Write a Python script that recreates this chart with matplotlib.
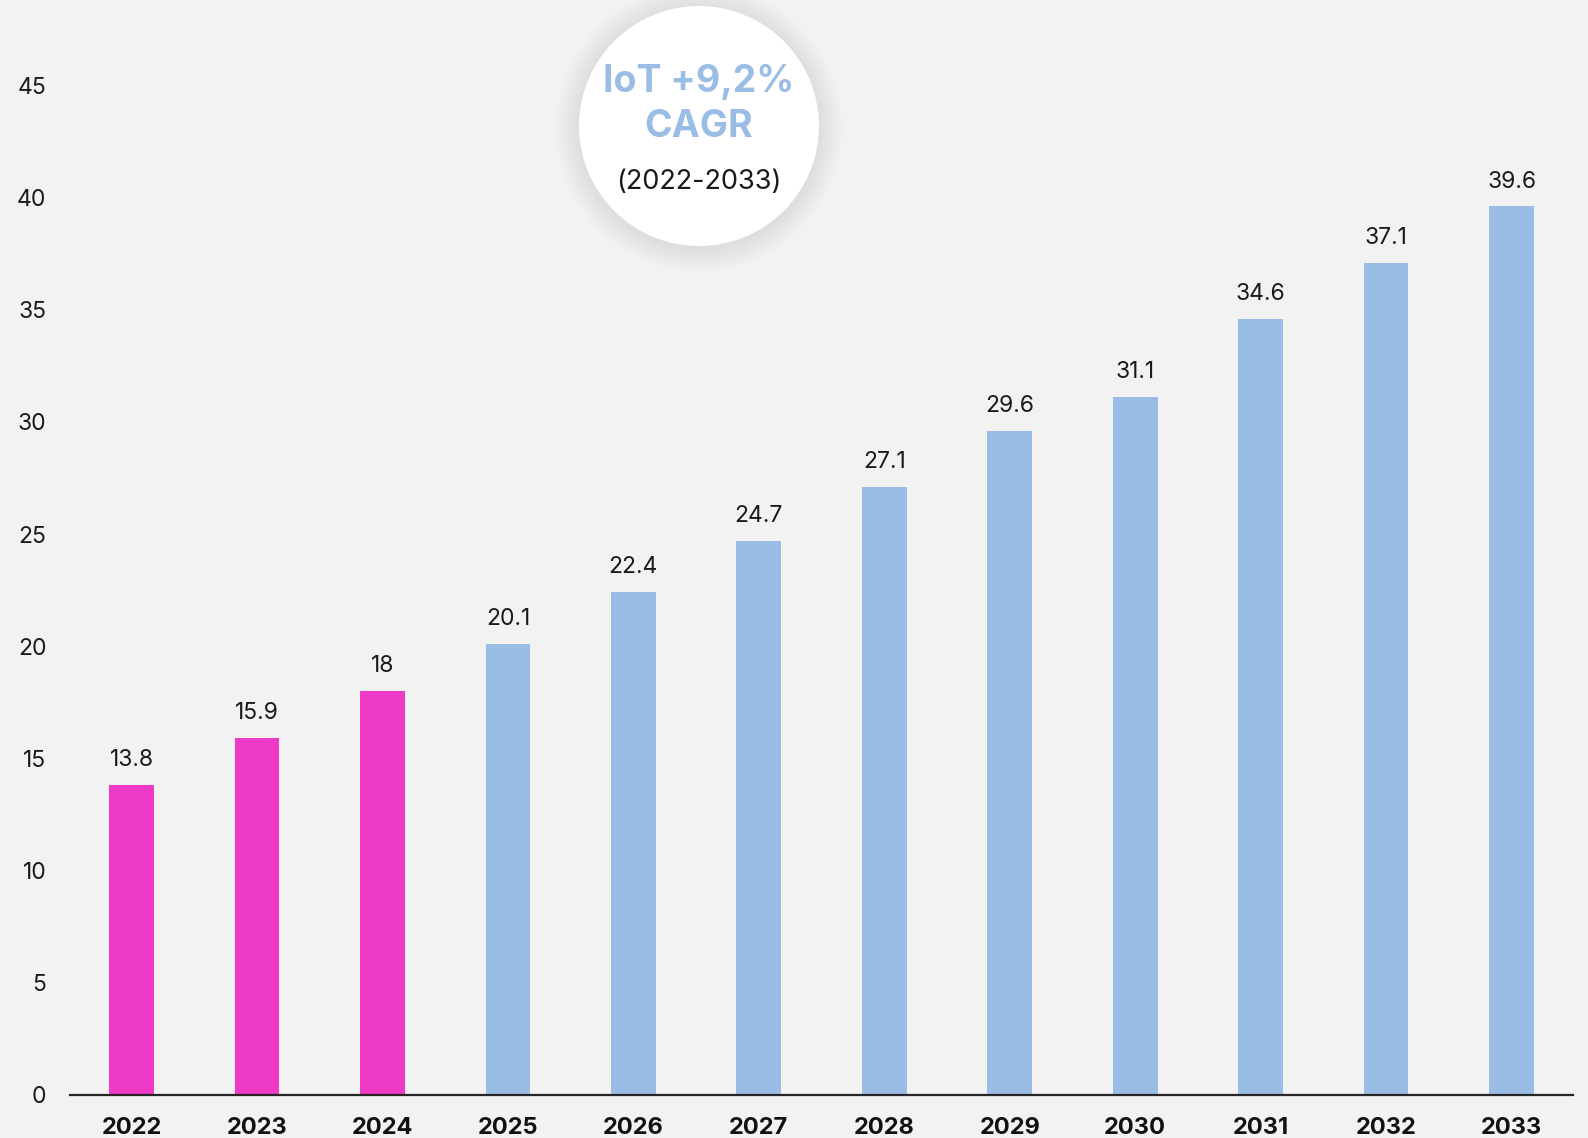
import matplotlib
matplotlib.use("Agg")
import matplotlib.pyplot as plt
from matplotlib.patches import Circle

plt.rcParams['font.family'] = ['Inter', 'DejaVu Sans']

years = ["2022", "2023", "2024", "2025", "2026", "2027",
         "2028", "2029", "2030", "2031", "2032", "2033"]
values = [13.8, 15.9, 18, 20.1, 22.4, 24.7, 27.1, 29.6, 31.1, 34.6, 37.1, 39.6]
value_labels = ["13.8", "15.9", "18", "20.1", "22.4", "24.7",
                "27.1", "29.6", "31.1", "34.6", "37.1", "39.6"]
n_actual = 3  # 2022-2024 highlighted
yticks = [0, 5, 10, 15, 20, 25, 30, 35, 40, 45]

pink = "#EF3AC8"
blue = "#9ABDE5"
bg = "#F2F2F2"

fig = plt.figure(figsize=(15.88, 11.38), dpi=100, facecolor=bg)
ax = fig.add_axes([0.0441, 0.0378, 0.9465, 0.9622])
ax.set_facecolor(bg)

x = list(range(len(years)))
colors = [pink if i < n_actual else blue for i in x]
bars = ax.bar(x, values, width=0.356, color=colors, zorder=2)

for xi, v, lab in zip(x, values, value_labels):
    ax.annotate(lab, (xi, v), xytext=(0, 10), textcoords="offset points",
                ha="center", va="bottom", fontsize=16.5, color="#1a1a1a")

ax.set_xlim(-0.49, len(years) - 0.51)
ax.set_ylim(0, 48.8)
ax.set_xticks(x)
ax.set_xticklabels(years, fontsize=17, fontweight="bold", color="#111111")
ax.set_yticks(yticks)
ax.set_yticklabels([str(t) for t in yticks], fontsize=16.5, color="#1a1a1a")
ax.tick_params(axis="x", length=0, pad=16)
ax.tick_params(axis="y", length=0, pad=17)

for s in ["top", "right", "left"]:
    ax.spines[s].set_visible(False)
ax.spines["bottom"].set_color("#262626")
ax.spines["bottom"].set_linewidth(1.6)
ax.spines["bottom"].set_zorder(3)

# CAGR bubble with soft shadow
cx, cy, r = 6.99, 11.38 - 1.26, 1.20
for k in range(20, 0, -1):
    fig.patches.append(Circle((cx, cy - 0.02), r + k * 0.012, transform=fig.dpi_scale_trans,
                              facecolor="#c8c8c8", edgecolor="none", alpha=0.018, zorder=5))
fig.patches.append(Circle((cx, cy), r, transform=fig.dpi_scale_trans,
                          facecolor="white", edgecolor="none", zorder=6))
fig.text(cx / 15.88, (11.38 - 0.82) / 11.38, "IoT +9,2%", ha="center", va="center",
         fontsize=27, fontweight="bold", color=blue, zorder=7)
fig.text(cx / 15.88, (11.38 - 1.27) / 11.38, "CAGR", ha="center", va="center",
         fontsize=27, fontweight="bold", color=blue, zorder=7)
fig.text(cx / 15.88, (11.38 - 1.82) / 11.38, "(2022-2033)", ha="center", va="center",
         fontsize=19.5, color="#1a1a1a", zorder=7)

fig.savefig("out.png", dpi=100, facecolor=bg)
